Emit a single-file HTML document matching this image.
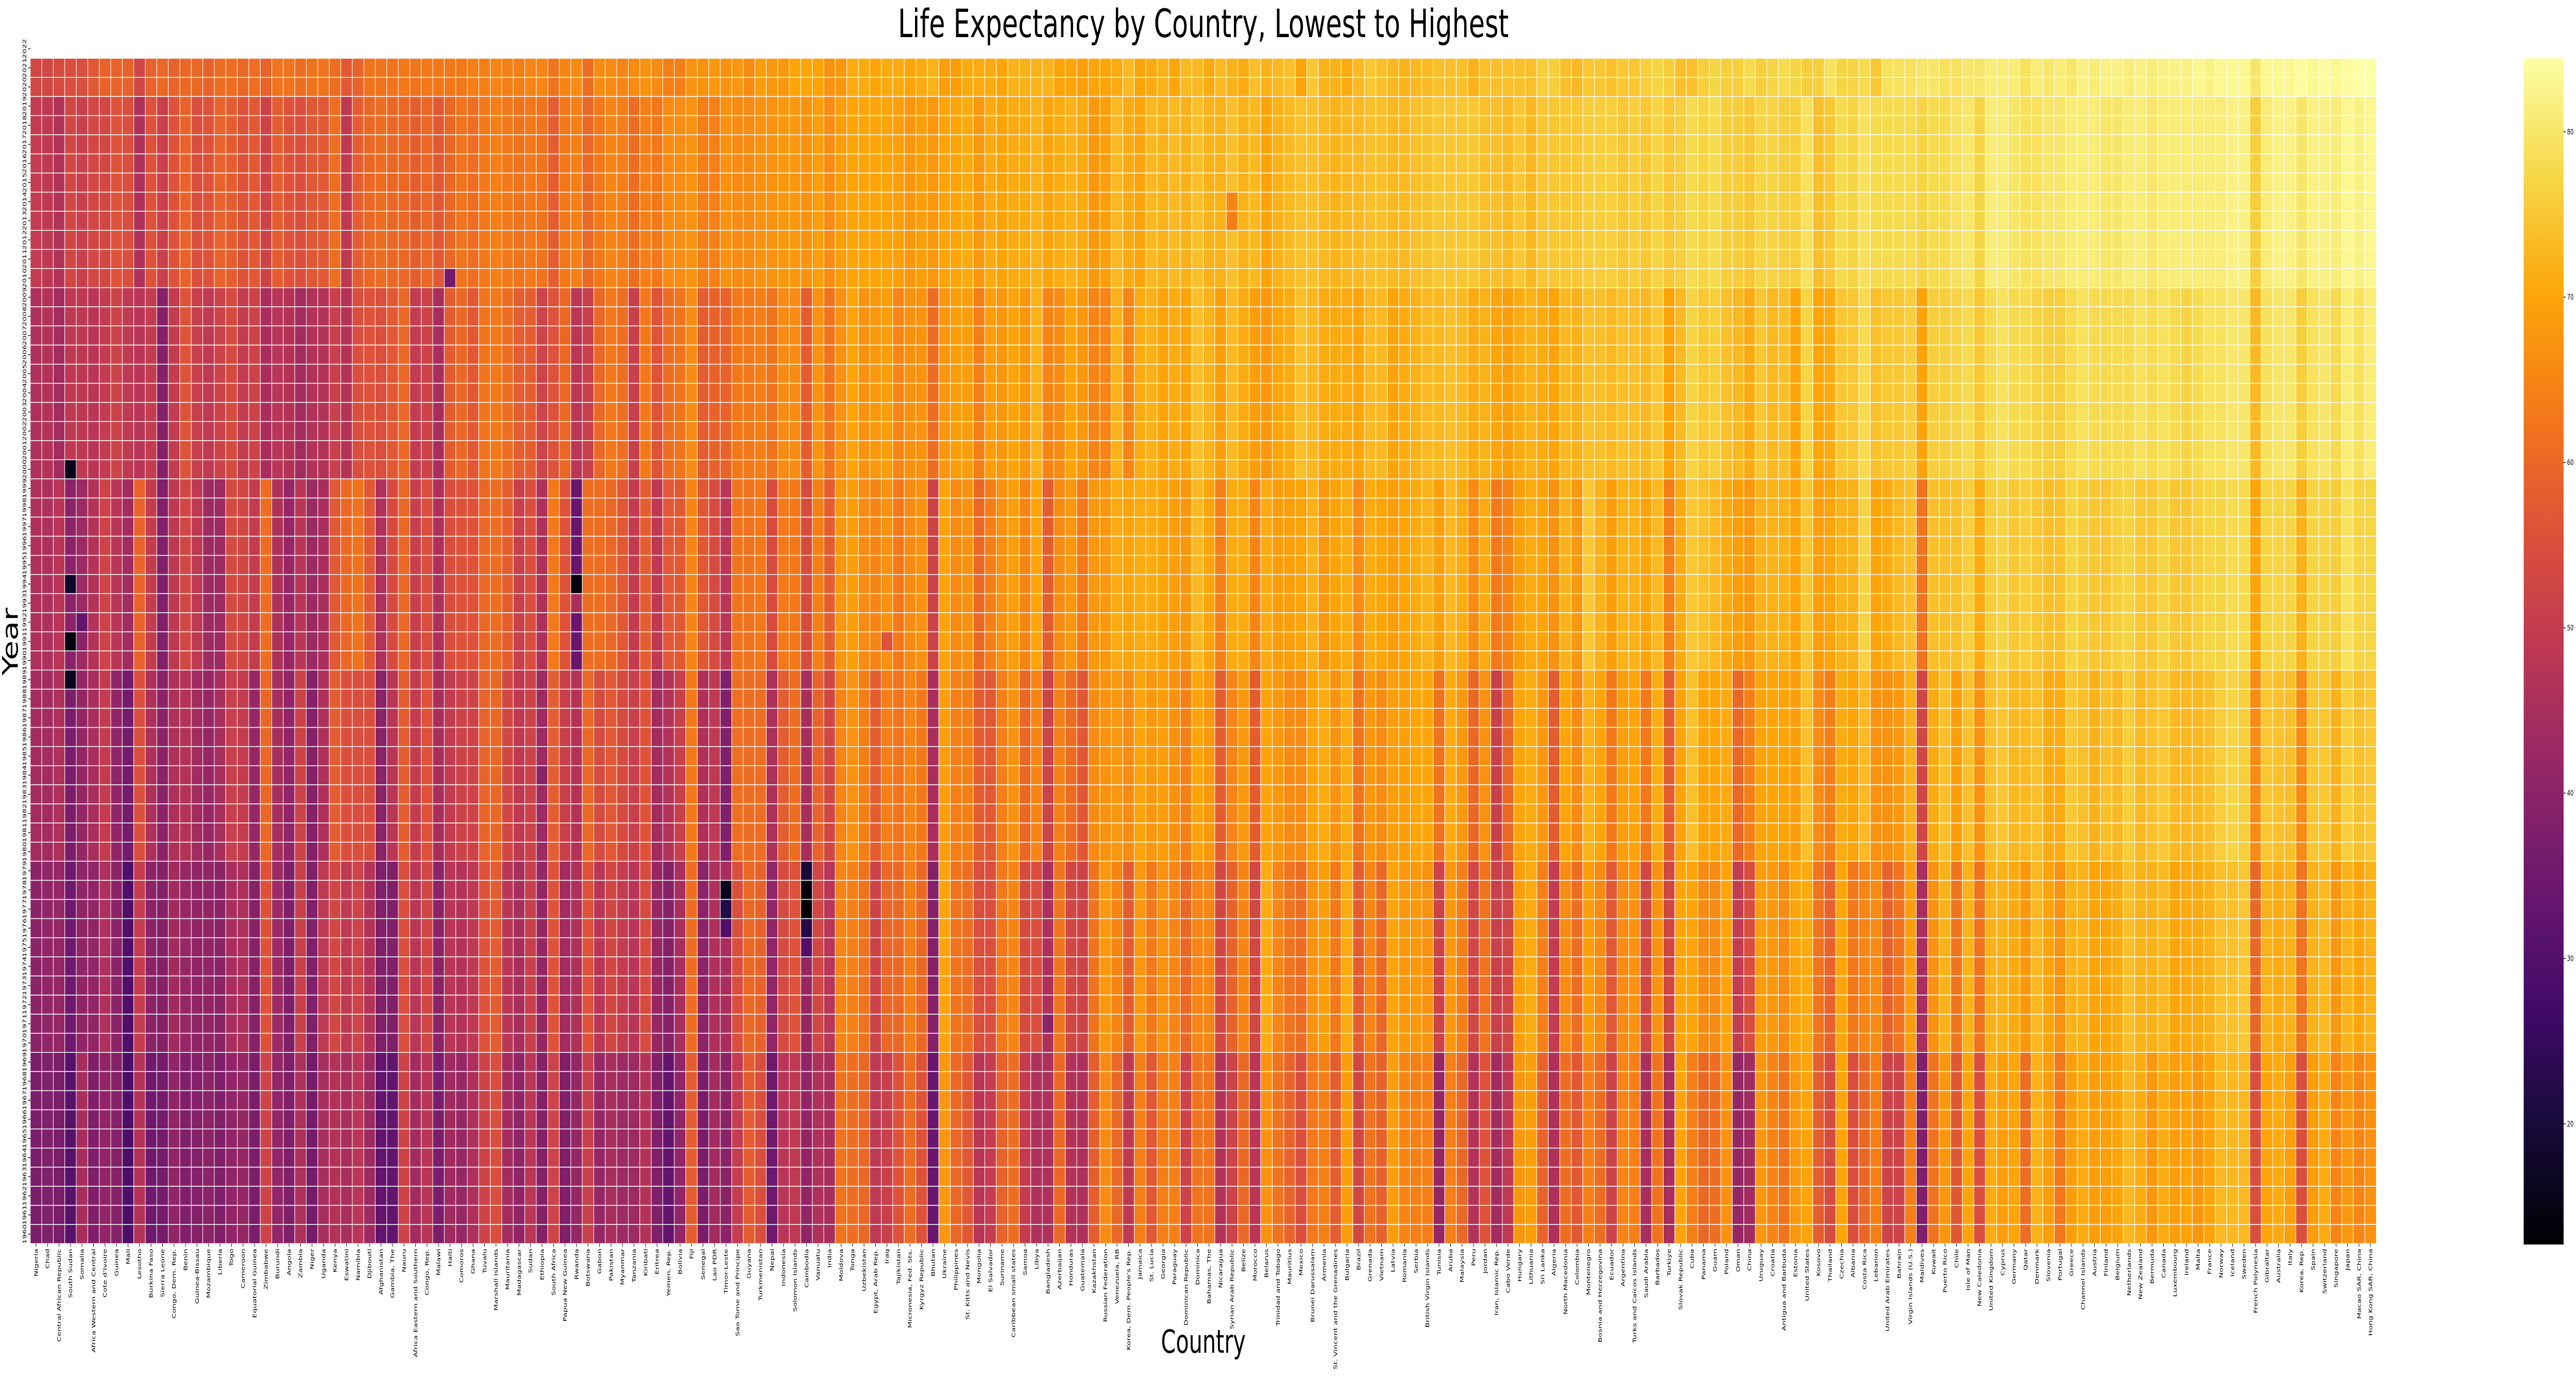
<!DOCTYPE html>
<html><head><meta charset="utf-8">
<style>
html,body{margin:0;padding:0;background:#fff;overflow:hidden;width:100%;height:100%;}
svg{display:block;font-family:"DejaVu Sans","Liberation Sans",sans-serif;width:100vw;height:100vh;}
</style></head>
<body>
<svg id="chart" viewBox="0 0 7486 2676" preserveAspectRatio="none" xmlns="http://www.w3.org/2000/svg">
<text x="3497" y="72" font-size="76" text-anchor="middle" fill="#000">Life Expectancy by Country, Lowest to Highest</text>
<text x="0" y="0" font-size="62" text-anchor="middle" fill="#000" transform="translate(52,1245) rotate(-90)">Year</text>
<text x="3497" y="2625" font-size="62" text-anchor="middle" fill="#000">Country</text>
<g id="cells"></g>
<g id="yticks"></g>
<g id="xticks"></g>
<g id="cbar"></g>
</svg>
<script>
const countries = ["Nigeria","Chad","Central African Republic","South Sudan","Somalia","Africa Western and Central","Cote d'Ivoire","Guinea","Mali","Lesotho","Burkina Faso","Sierra Leone","Congo, Dem. Rep.","Benin","Guinea-Bissau","Mozambique","Liberia","Togo","Cameroon","Equatorial Guinea","Zimbabwe","Burundi","Angola","Zambia","Niger","Uganda","Kenya","Eswatini","Namibia","Djibouti","Afghanistan","Gambia, The","Nauru","Africa Eastern and Southern","Congo, Rep.","Malawi","Haiti","Comoros","Ghana","Tuvalu","Marshall Islands","Mauritania","Madagascar","Sudan","Ethiopia","South Africa","Papua New Guinea","Rwanda","Botswana","Gabon","Pakistan","Myanmar","Tanzania","Kiribati","Eritrea","Yemen, Rep.","Bolivia","Fiji","Senegal","Lao PDR","Timor-Leste","Sao Tome and Principe","Guyana","Turkmenistan","Nepal","Indonesia","Solomon Islands","Cambodia","Vanuatu","India","Moldova","Tonga","Uzbekistan","Egypt, Arab Rep.","Iraq","Tajikistan","Micronesia, Fed. Sts.","Kyrgyz Republic","Bhutan","Ukraine","Philippines","St. Kitts and Nevis","Mongolia","El Salvador","Suriname","Caribbean small states","Samoa","Libya","Bangladesh","Azerbaijan","Honduras","Guatemala","Kazakhstan","Russian Federation","Venezuela, RB","Korea, Dem. People's Rep.","Jamaica","St. Lucia","Georgia","Paraguay","Dominican Republic","Dominica","Bahamas, The","Nicaragua","Syrian Arab Republic","Belize","Morocco","Belarus","Trinidad and Tobago","Mauritius","Mexico","Brunei Darussalam","Armenia","St. Vincent and the Grenadines","Bulgaria","Brazil","Grenada","Vietnam","Latvia","Romania","Serbia","British Virgin Islands","Tunisia","Aruba","Malaysia","Peru","Jordan","Iran, Islamic Rep.","Cabo Verde","Hungary","Lithuania","Sri Lanka","Algeria","North Macedonia","Colombia","Montenegro","Bosnia and Herzegovina","Ecuador","Argentina","Turks and Caicos Islands","Saudi Arabia","Barbados","Turkiye","Slovak Republic","Cuba","Panama","Guam","Poland","Oman","China","Uruguay","Croatia","Antigua and Barbuda","Estonia","United States","Kosovo","Thailand","Czechia","Albania","Costa Rica","Lebanon","United Arab Emirates","Bahrain","Virgin Islands (U.S.)","Maldives","Kuwait","Puerto Rico","Chile","Isle of Man","New Caledonia","United Kingdom","Cyprus","Germany","Qatar","Denmark","Slovenia","Portugal","Greece","Channel Islands","Austria","Finland","Belgium","Netherlands","New Zealand","Bermuda","Canada","Luxembourg","Ireland","Malta","France","Norway","Iceland","Sweden","French Polynesia","Gibraltar","Australia","Italy","Korea, Rep.","Spain","Switzerland","Singapore","Japan","Macao SAR, China","Hong Kong SAR, China"];
const years = [2022,2021,2020,2019,2018,2017,2016,2015,2014,2013,2012,2011,2010,2009,2008,2007,2006,2005,2004,2003,2002,2001,2000,1999,1998,1997,1996,1995,1994,1993,1992,1991,1990,1989,1988,1987,1986,1985,1984,1983,1982,1981,1980,1979,1978,1977,1976,1975,1974,1973,1972,1971,1970,1969,1968,1967,1966,1965,1964,1963,1962,1961,1960];
const anchorYears = [1960,1970,1980,1990,2000,2010,2020];
const dec1960 = [37,38,37,31,45,38,41,39,29,47,35,36,41,38,39,40,38,41,42,37,52,41,38,46,36,45,47,45,48,43,33,33,52,44,48,37,44,42,46,52,55,44,41,48,39,52,38,42,51,42,45,43,43,47,38,33,41,58,37,44,40,50,58,55,35,48,49,41,46,45,62,61,60,49,51,56,61,56,34,68,60,57,48,50,59,61,50,46,46,60,47,46,58,66,60,49,64,57,64,64,52,62,62,47,52,60,48,67,62,59,55,63,64,58,69,53,62,59,69,65,64,64,42,64,60,47,56,44,49,68,69,59,46,61,57,64,61,52,65,64,45,62,45,70,64,60,61,67,42,44,68,65,62,68,70,58,54,70,55,60,64,52,52,64,38,62,68,57,70,55,71,69,70,61,72,69,63,69,71,69,69,70,73,71,68,71,69,70,68,70,73,73,73,55,70,71,69,55,69,71,65,68,65,67];
const dec1970 = [40,41,42,35,41,41,46,40,30,50,40,39,44,42,41,41,40,45,46,39,56,43,38,51,38,49,53,49,52,47,38,38,55,48,53,40,48,47,49,56,58,48,45,51,42,56,44,46,56,48,53,50,48,54,42,39,45,61,40,46,45,55,60,59,41,54,56,42,53,48,65,64,62,52,60,60,64,60,39,70,62,61,55,55,63,65,54,55,46,62,53,52,62,68,65,58,68,63,67,65,60,65,65,53,59,65,53,71,65,62,61,67,69,63,71,58,65,60,70,68,68,67,52,68,64,53,62,51,53,69,71,64,50,66,61,69,66,57,66,67,53,67,53,70,70,66,66,70,50,55,69,68,66,70,71,62,59,70,63,65,66,59,62,69,45,67,72,62,72,62,72,72,71,68,73,70,67,72,72,70,70,71,74,72,72,73,70,71,71,72,74,74,75,60,72,71,72,62,72,73,68,72,70,72];
const dec1980 = [44,44,46,37,42,45,50,41,36,55,46,40,46,47,44,42,45,51,50,42,60,45,41,52,39,46,58,55,55,55,40,48,58,50,56,45,50,52,52,59,60,53,49,52,43,58,51,47,60,54,57,54,51,56,44,47,51,63,46,49,38,61,61,61,46,58,61,45,59,53,65,67,64,58,64,62,65,63,45,69,64,64,58,57,64,67,60,65,52,64,61,57,66,67,68,66,70,68,69,67,64,70,68,58,65,68,58,70,68,66,66,70,71,67,71,62,68,66,69,69,70,70,62,71,68,60,67,51,60,70,71,68,58,70,66,72,70,63,69,70,63,71,58,70,74,70,70,71,60,64,70,70,70,69,74,66,64,71,70,73,67,67,68,72,53,71,74,69,74,67,74,75,73,73,74,71,71,75,74,72,74,73,76,73,74,75,73,73,73,74,76,77,76,66,75,74,74,66,75,75,72,76,74,75];
const dec1990 = [46,46,48,40,43,47,52,48,44,59,50,38,49,53,49,43,43,54,53,50,61,46,42,48,43,45,57,60,62,57,46,54,60,51,55,46,55,56,56,60,61,58,51,55,46,63,56,34,61,61,60,57,50,58,49,57,57,65,57,54,48,62,62,63,54,63,63,54,64,58,68,69,66,65,67,63,66,67,52,70,66,67,60,64,67,69,65,70,58,66,68,63,68,68,71,70,71,71,70,69,68,73,70,64,71,71,65,71,69,69,70,72,68,70,71,66,71,70,69,70,71,72,69,73,71,66,71,63,65,69,71,70,67,72,68,75,72,69,72,72,70,73,64,71,75,74,73,71,69,68,72,72,72,70,75,69,70,72,72,77,70,71,73,74,62,74,74,74,76,71,76,77,75,76,75,74,74,77,76,75,75,76,77,75,75,77,75,75,76,77,77,78,78,70,77,77,77,72,77,77,76,79,77,77];
const dec2000 = [46,47,44,49,49,48,50,52,49,48,50,39,50,56,51,49,52,54,50,52,45,48,47,44,47,47,51,47,55,56,55,57,60,50,52,45,58,60,57,62,63,61,58,58,52,56,60,48,51,60,63,61,51,63,56,61,62,66,58,59,59,63,63,64,62,66,66,58,67,62,67,70,67,68,69,65,67,67,61,68,69,69,64,69,68,70,68,72,65,66,70,68,65,65,72,65,71,72,70,71,70,74,72,69,73,71,69,68,70,71,74,73,71,71,71,70,73,73,70,71,72,73,73,74,73,71,72,70,69,71,72,71,70,73,72,74,74,73,74,74,73,75,70,73,77,75,76,74,73,71,75,73,74,70,77,70,71,75,75,78,74,75,75,76,70,76,76,77,78,75,78,79,78,78,77,76,76,78,79,78,78,78,78,79,78,79,78,77,78,79,79,80,80,73,79,80,80,76,79,80,78,81,79,81];
const dec2010 = [50,49,47,53,51,53,53,56,55,46,56,51,56,59,55,56,59,58,56,57,52,58,56,55,57,57,61,49,58,60,61,60,60,58,60,57,60,62,61,63,64,63,62,63,62,58,63,64,60,63,65,64,61,64,63,66,66,67,64,64,67,66,66,67,67,68,68,67,69,66,69,70,70,70,70,69,68,69,68,70,70,71,68,71,70,71,71,72,70,71,72,71,68,69,73,71,70,73,72,73,72,74,72,72,74,72,73,70,72,73,74,74,73,72,73,73,74,74,73,73,74,74,75,75,75,75,74,74,73,75,73,75,75,75,75,76,76,76,75,76,75,77,75,76,78,77,78,76,76,75,77,77,76,76,79,74,75,78,77,79,78,78,78,78,77,78,78,79,80,77,81,81,80,79,79,80,80,81,81,81,80,80,81,81,80,81,81,81,81,81,81,82,82,76,81,82,82,80,82,82,81,83,82,83];
const dec2020 = [53,53,54,55,55,57,59,59,59,53,59,60,59,60,60,59,61,61,60,61,59,62,62,61,62,62,61,57,59,62,62,62,63,62,63,63,63,63,64,64,65,64,64,65,65,62,65,66,61,66,66,65,66,67,66,64,64,67,67,68,67,68,66,69,68,68,70,70,70,67,68,71,71,70,71,71,70,71,72,69,69,71,71,71,70,72,72,72,72,70,70,69,70,70,71,73,70,71,72,70,73,73,71,73,72,71,74,72,73,74,70,75,72,72,71,73,75,74,73,72,73,73,74,74,74,72,74,74,74,74,74,76,76,74,73,75,75,74,75,75,76,77,76,74,74,76,77,76,76,78,76,77,78,77,76,76,79,77,77,78,75,79,79,79,80,80,79,79,80,80,81,81,81,79,81,80,81,80,82,81,82,82,81,82,81,82,82,82,83,82,83,83,83,80,83,83,83,84,83,84,83,84,85,85];
const shockCountries = ["South Sudan","South Sudan","South Sudan","South Sudan","Somalia","Somalia","Rwanda","Rwanda","Cambodia","Cambodia","Cambodia","Cambodia","Cambodia","Timor-Leste","Timor-Leste","Timor-Leste","Bangladesh","Haiti","Iraq","Ethiopia","Syrian Arab Republic","Syrian Arab Republic"];
const shockYears = [1989,1991,1994,2000,1991,1992,1993,1994,1975,1976,1977,1978,1979,1976,1977,1978,1971,2010,1991,1984,2013,2014];
const shockValues = [16,14,18,16,40,33,45,14,30,22,12,14,20,30,22,16,40,36,56,40,64,65];
const cbarTicks = [20,30,40,50,60,70,80];

const VMIN = 12.7, VMAX = 84.45;
const X0 = 88, CW = 33.42, Y0 = 76, RH = 37.1;
const infernoStops = ["#000004","#160b39","#420a68","#6a176e","#932667","#bc3754","#dd513a","#f37819","#fca50a","#f6d746","#fcffa4"];
function hex2rgb(h){return [parseInt(h.substr(1,2),16),parseInt(h.substr(3,2),16),parseInt(h.substr(5,2),16)];}
const stopRGB = infernoStops.map(hex2rgb);
function inferno(t){
  t = Math.max(0, Math.min(1, t));
  const p = t * 10, i = Math.min(9, Math.floor(p)), f = p - i;
  const a = stopRGB[i], b = stopRGB[i+1];
  return "rgb(" + a.map((v,k)=>Math.round(v + (b[k]-v)*f)).join(",") + ")";
}
function colorOf(v){ return inferno((v - VMIN) / (VMAX - VMIN)); }
function xScale(ci){ return X0 + ci * CW; }
function yScale(ri){ return Y0 + ri * RH; }
function cbY(v){ return 113 + (VMAX - v) / (VMAX - VMIN) * 2302; }
const decadeSeries = [dec1960,dec1970,dec1980,dec1990,dec2000,dec2010,dec2020];
function valueAt(ci, year){
  for (let s = 0; s < shockCountries.length; s++){
    if (shockYears[s] === year && shockCountries[s] === countries[ci]) return shockValues[s];
  }
  let k = 0;
  for (let a = 0; a < anchorYears.length; a++) if (year >= anchorYears[a]) k = a;
  return decadeSeries[k][ci];
}
const NS = "http://www.w3.org/2000/svg";
function mk(tag, attrs, parent){
  const el = document.createElementNS(NS, tag);
  for (const k in attrs) el.setAttribute(k, attrs[k]);
  parent.appendChild(el);
  return el;
}
const cells = document.getElementById("cells");
let html = "";
years.forEach((yr, ri) => {
  if (yr > 2021) return;
  countries.forEach((c, ci) => {
    const v = valueAt(ci, yr);
    html += '<rect x="' + xScale(ci).toFixed(2) + '" y="' + yScale(ri).toFixed(2) + '" width="' + CW.toFixed(2) + '" height="' + RH.toFixed(2) + '" fill="' + colorOf(v) + '" stroke="#fff" stroke-width="1.5"/>';
  });
});
cells.innerHTML = html;

const yt = document.getElementById("yticks");
years.forEach((yr, ri) => {
  const cy = yScale(ri) + RH / 2;
  const t = mk("line", {x1: 82, x2: 88, y1: cy, y2: cy, stroke: "#000", "stroke-width": 1.5}, yt);
  
  
  const l = mk("text", {x: 0, y: 0, "font-size": 15, "text-anchor": "middle", transform: "translate(76," + cy + ") rotate(-90)"}, yt);
  
  
  l.textContent = yr;
});

const xt = document.getElementById("xticks");
countries.forEach((c, ci) => {
  const cx = xScale(ci) + CW / 2;
  const bottom = yScale(years.length);
  const t = mk("line", {x1: cx, x2: cx, y1: bottom, y2: bottom + 6, stroke: "#000", "stroke-width": 1.5}, xt);
  
  
  const l = mk("text", {x: 0, y: 0, "font-size": 15, "text-anchor": "end", transform: "translate(" + (cx + 5) + "," + (bottom + 10) + ") rotate(-90)"}, xt);
  
  
  l.textContent = c;
});

const cb = document.getElementById("cbar");
const defs = mk("defs", {}, cb);
const grad = mk("linearGradient", {id: "cbgrad", x1: 0, y1: 1, x2: 0, y2: 0}, defs);
infernoStops.forEach((s, i) => mk("stop", {offset: (i * 10) + "%", "stop-color": s}, grad));
const cbr = mk("rect", {x: 7334, y: 113, width: 116, height: 2302, fill: "url(#cbgrad)"}, cb);


cbarTicks.forEach(v => {
  const y = cbY(v);
  const t = mk("line", {x1: 7450, x2: 7456, y1: y, y2: y, stroke: "#000", "stroke-width": 1.5}, cb);
  
  
  const l = mk("text", {x: 7460, y: y + 5, "font-size": 15, fill: "#000"}, cb);
  
  
  l.textContent = v;
});
</script>
</body></html>
